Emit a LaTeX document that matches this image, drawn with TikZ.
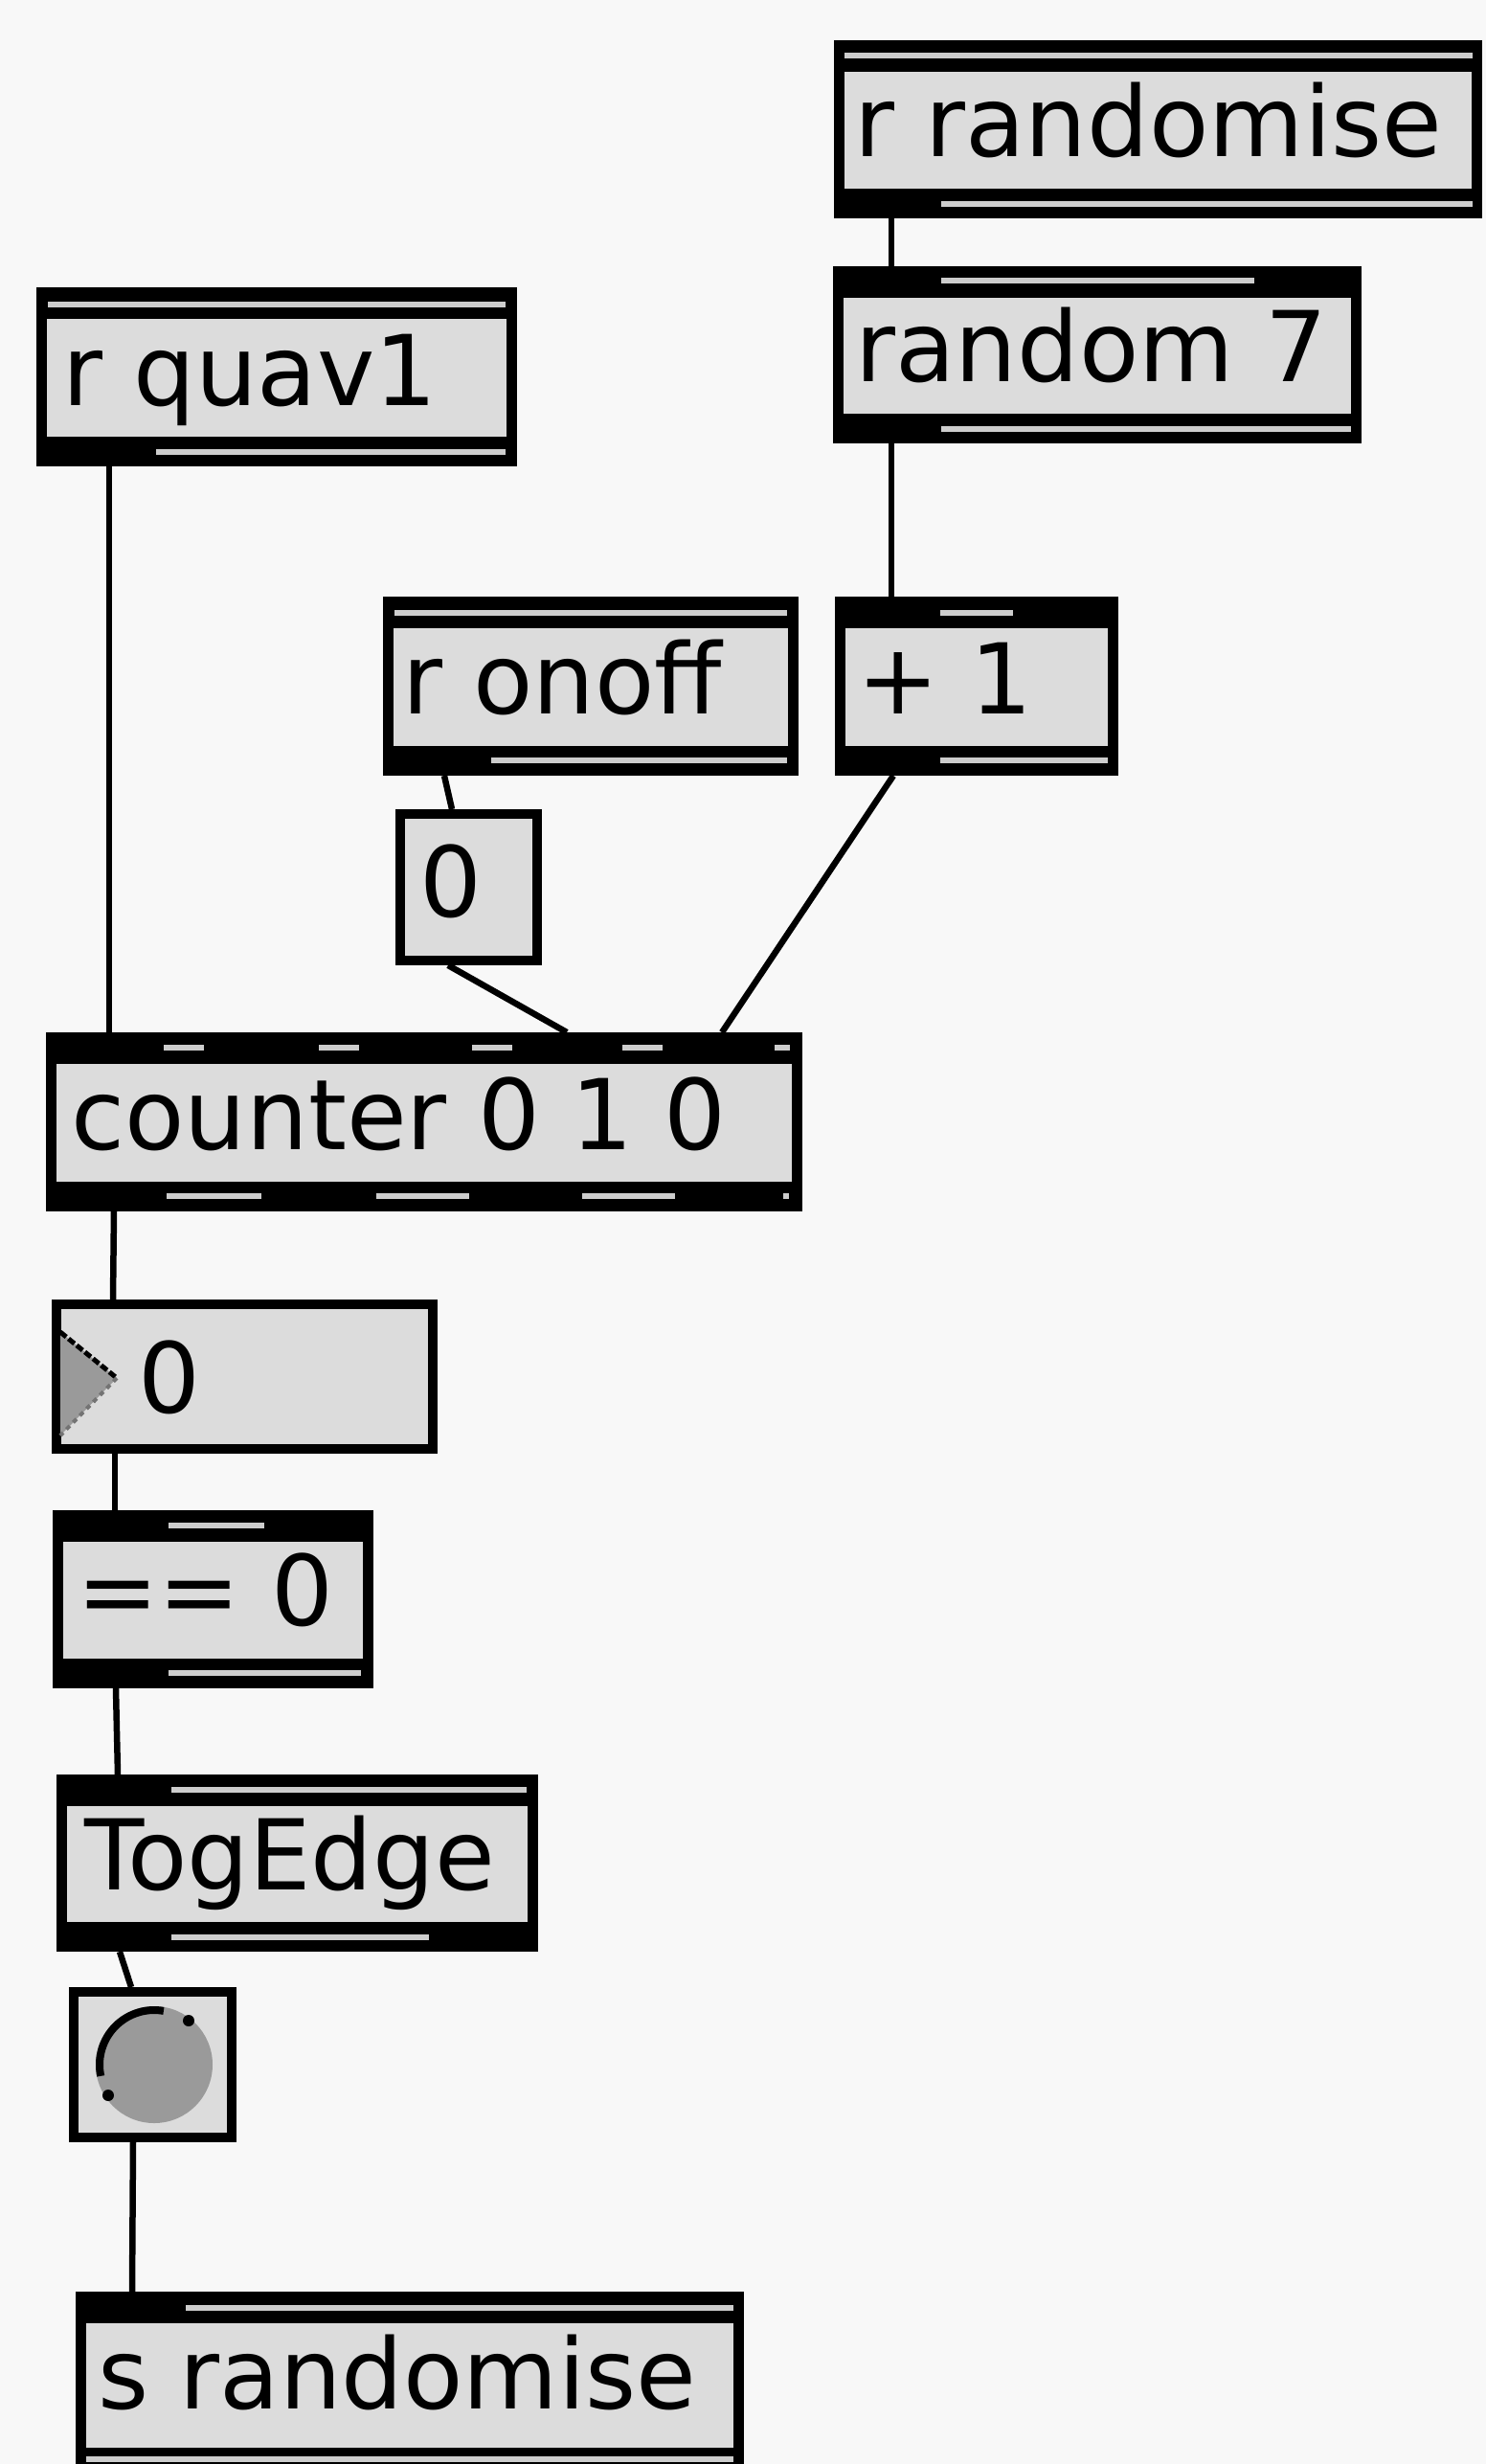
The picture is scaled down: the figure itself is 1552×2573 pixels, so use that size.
\documentclass[tikz,border=0pt]{standalone}
\usepackage{fontspec}
\setmainfont{DejaVu Sans}
\definecolor{paper}{HTML}{F8F8F8}
\definecolor{boxfill}{HTML}{DCDCDC}
\definecolor{slotgray}{HTML}{CDCDCD}
\definecolor{bangfill}{HTML}{9A9A9A}
\newcommand\objfont{\fontsize{102}{110}\selectfont}

% object box: black frame with inlet/outlet bands and a grey text field
\newcommand\maxobj[5]{%
  \node[patchbox, minimum width={(#4-#2)*1pt}, minimum height={(#5-#3)*1pt}] (#1) at (#2,-#3) {};
  \fill[boxfill] (#2+11,-#3-33) rectangle (#4-11,-#5+31);
}
% plain framed box (message, number, bang)
\newcommand\plainbox[5]{%
  \node[patchbox, minimum width={(#4-#2)*1pt}, minimum height={(#5-#3)*1pt}] (#1) at (#2,-#3) {};
  \fill[boxfill] (#2+10,-#3-10) rectangle (#4-10,-#5+10);
}
% light strip inside a band, between inlets or outlets
\newcommand\slotline[3]{\fill[slotgray] (#1,-#3+3) rectangle (#2,-#3-3);}

\tikzset{
  patchbox/.style={fill=black, draw=none, anchor=north west, inner sep=0, outer sep=0},
  boxtext/.style={anchor=base west, font=\objfont, inner sep=0, text=black},
  wire/.style={line width=6.5pt, draw=black},
}

\begin{document}
\begin{tikzpicture}[x=1pt,y=1pt]
\fill[paper] (0,0) rectangle (1552,-2573);
\useasboundingbox (0,0) rectangle (1552,-2573);

% r randomise
\maxobj{rr}{871}{42}{1548}{228}
\slotline{882}{1538}{58}
\slotline{983}{1538}{213}
\node[boxtext] (rrt) at (892,-163) {r randomise};

% random 7
\maxobj{rseven}{870}{278}{1422}{463}
\slotline{983}{1310}{293}
\slotline{983}{1411}{448}
\node[boxtext] (rsevent) at (893,-398) {random 7};

% r quav1
\maxobj{rq}{38}{300}{540}{487}
\slotline{50}{528}{318}
\slotline{163}{528}{472}
\node[boxtext] (rqt) at (65,-423) {r quav1};

% r onoff
\maxobj{ro}{400}{623}{834}{810}
\slotline{412}{822}{640}
\slotline{513}{822}{794}
\node[boxtext] (rot) at (420,-745) {r onoff};

% + 1
\maxobj{pone}{872}{623}{1168}{810}
\slotline{982}{1058}{640}
\slotline{982}{1157}{794}
\node[boxtext] (ponet) at (895,-745) {+ 1};

% message 0
\plainbox{msg}{413}{845}{566}{1008}
\node[boxtext] (msgt) at (438,-957) {0};

% counter 0 1 0
\maxobj{ctr}{48}{1078}{838}{1265}
\slotline{171}{213}{1094}
\slotline{333}{375}{1094}
\slotline{493}{535}{1094}
\slotline{650}{692}{1094}
\slotline{809}{825}{1094}
\slotline{174}{273}{1249}
\slotline{393}{490}{1249}
\slotline{608}{705}{1249}
\slotline{818}{824}{1249}
\node[boxtext] (ctrt) at (74,-1200) {counter 0 1 0};

% number box
\plainbox{num}{54}{1357}{457}{1518}
\fill[bangfill] (63,-1391) -- (122,-1439) -- (63,-1499) -- cycle;
\draw[line width=5pt, black, dash pattern=on 8pt off 3pt] (63,-1391) -- (122,-1439);
\draw[line width=4pt, black!55, dash pattern=on 5pt off 5pt] (122,-1439) -- (63,-1499);
\node[boxtext] (numt) at (144,-1475) {0};

% == 0
\maxobj{eq}{55}{1577}{390}{1763}
\slotline{176}{276}{1593}
\slotline{176}{377}{1747}
\node[boxtext] (eqt) at (80,-1697) {== 0};

% TogEdge
\maxobj{te}{59}{1853}{562}{2038}
\slotline{179}{550}{1869}
\slotline{179}{448}{2023}
\node[boxtext] (tet) at (88,-1973) {TogEdge};

% bang
\plainbox{bang}{72}{2075}{247}{2237}
\fill[bangfill] (161,-2156) circle (61);
\draw[line width=8pt, black] (161,-2156) ++(80:57) arc (80:192:57);
\fill[black] (197,-2110) circle (6);
\fill[black] (113,-2188) circle (6);

% s randomise
\maxobj{sr}{79}{2393}{777}{2587}
\slotline{194}{766}{2410}
\slotline{90}{766}{2568}
\node[boxtext] (srt) at (102,-2515) {s randomise};

% patch cords
\draw[wire] ([xshift=60pt]rr.south west) -- ([xshift=61pt]rseven.north west);
\draw[wire] ([xshift=61pt]rseven.south west) -- ([xshift=59pt]pone.north west);
\draw[wire] ([xshift=76pt]rq.south west) -- ([xshift=66pt]ctr.north west);
\draw[wire] ([xshift=64pt]ro.south west) -- ([xshift=59pt]msg.north west);
\draw[wire] ([xshift=55pt]msg.south west) -- ([xshift=544pt]ctr.north west);
\draw[wire] ([xshift=61pt]pone.south west) -- ([xshift=706pt]ctr.north west);
\draw[wire] ([xshift=71pt]ctr.south west) -- ([xshift=64pt]num.north west);
\draw[wire] ([xshift=66pt]num.south west) -- ([xshift=65pt]eq.north west);
\draw[wire] ([xshift=66pt]eq.south west) -- ([xshift=64pt]te.north west);
\draw[wire] ([xshift=66pt]te.south west) -- ([xshift=65pt]bang.north west);
\draw[wire] ([xshift=67pt]bang.south west) -- ([xshift=59pt]sr.north west);
\end{tikzpicture}
\end{document}
